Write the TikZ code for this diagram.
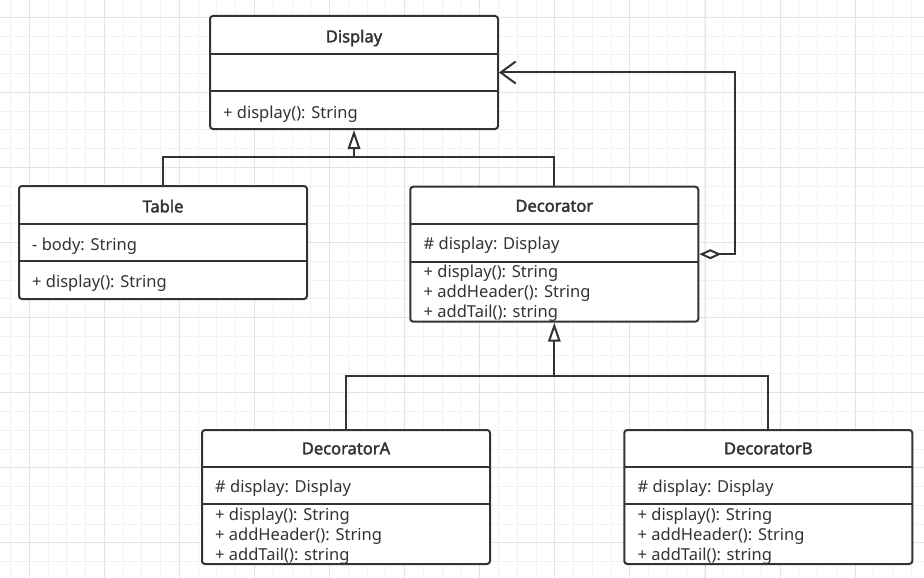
\documentclass[tikz,border=0pt]{standalone}
\usepackage{fontspec}
\setmainfont{Noto Sans}[BoldFont={Noto Sans}, BoldFeatures={FakeBold=2.2}]
\usepackage{tikz}
\usepackage{xcolor}
\usetikzlibrary{
    arrows.meta,
    calc,
    positioning
}
\definecolor{ink}{HTML}{333333}
\definecolor{gridminor}{HTML}{F2F2F2}
\definecolor{gridmajor}{HTML}{E4E4E4}

\begin{document}
\begin{tikzpicture}[x=1pt, y=-1pt,
    classbox/.style={draw=ink, fill=white, line width=2pt, rounded corners=3pt, inner sep=0pt, minimum width=288pt},
    divider/.style={draw=ink, line width=2pt},
    classname/.style={anchor=base, inner sep=0pt, text=ink, font=\fontsize{16.5}{20}\selectfont\bfseries},
    member/.style={anchor=base west, inner sep=0pt, text=ink, font=\fontsize{16.5}{20}\selectfont},
    link/.style={draw=ink, line width=2pt},
    inherit/.style={link, -{Triangle[open, length=19pt, width=12.5pt, fill=white]}},
    aggregate/.style={link, {Diamond[open, length=22pt, width=10pt, fill=white]}-{Straight Barb[length=15pt, width=22pt]}}]
                                % background grid
                                \fill[white] (0,0) rectangle (924,578);
                                \useasboundingbox (0,0) rectangle (924,578);
                                \foreach \i in {0,...,49} \draw[gridminor, line width=1pt] ({10.5+\i*18.77},0) -- ({10.5+\i*18.77},578);
                                \foreach \i in {0,...,31} \draw[gridminor, line width=1pt] (0,{-1.45+\i*18.77}) -- (924,{-1.45+\i*18.77});
                                \foreach \i in {0,...,12} \draw[gridmajor, line width=1pt] ({29.3+\i*75.08},0) -- ({29.3+\i*75.08},578);
                                \foreach \i in {0,...,7} \draw[gridmajor, line width=1pt] (0,{17.3+\i*75.08}) -- (924,{17.3+\i*75.08});
                                % Display
                                \node[classbox, minimum height=113pt] (display) at (354,72.5) {};
                                \draw[divider] (210,54) -- (498,54) (210,91) -- (498,91);
                                \node[classname] (display-name) at (354,42.3) {Display};
                                \node[member] (display-op) at (223,118.3) {+ display(): String};
                                % Table
                                \node[classbox, minimum height=113pt] (table) at (163,242.5) {};
                                \draw[divider] (19,224) -- (307,224) (19,261) -- (307,261);
                                \node[classname] (table-name) at (163,212.3) {Table};
                                \node[member] (table-attr) at (32,250) {- body: String};
                                \node[member] (table-op) at (32,287.5) {+ display(): String};
                                % Decorator
                                \node[classbox, minimum height=135pt] (decorator) at (554.3,254.2) {};
                                \draw[divider] (410.3,224.3) -- (698.3,224.3) (410.3,261.7) -- (698.3,261.7);
                                \node[classname] (decorator-name) at (554.3,211.7) {Decorator};
                                \node[member] (decorator-attr) at (423.5,249) {\# display: Display};
                                \node[member] (decorator-op1) at (423.5,277.7) {+ display(): String};
                                \node[member] (decorator-op2) at (423.5,297.7) {+ addHeader(): String};
                                \node[member] (decorator-op3) at (423.5,317.7) {+ addTail(): string};
                                % DecoratorA
                                \node[classbox, minimum height=134pt] (decoratorA) at (346,497) {};
                                \draw[divider] (202,467) -- (490,467) (202,504) -- (490,504);
                                \node[classname] (decoratorA-name) at (346,454.3) {DecoratorA};
                                \node[member] (decoratorA-attr) at (215,492.3) {\# display: Display};
                                \node[member] (decoratorA-op1) at (215,520.5) {+ display(): String};
                                \node[member] (decoratorA-op2) at (215,540.5) {+ addHeader(): String};
                                \node[member] (decoratorA-op3) at (215,560.5) {+ addTail(): string};
                                % DecoratorB
                                \node[classbox, minimum height=134pt] (decoratorB) at (768.3,497) {};
                                \draw[divider] (624.3,467) -- (912.3,467) (624.3,504) -- (912.3,504);
                                \node[classname] (decoratorB-name) at (768.3,454.3) {DecoratorB};
                                \node[member] (decoratorB-attr) at (637.5,492.3) {\# display: Display};
                                \node[member] (decoratorB-op1) at (637.5,520.5) {+ display(): String};
                                \node[member] (decoratorB-op2) at (637.5,540.5) {+ addHeader(): String};
                                \node[member] (decoratorB-op3) at (637.5,560.5) {+ addTail(): string};
                                % connectors
                                \coordinate (joinA) at (354,157.3);
                                \coordinate (joinB) at (554.3,376);
                                \draw[link] (table.north) |- (joinA);
                                \draw[link] (decorator.north) |- (joinA);
                                \draw[inherit] (joinA) -- (display.south);
                                \draw[link] (decoratorA.north) |- (joinB);
                                \draw[link] (decoratorB.north) |- (joinB);
                                \draw[inherit] (joinB) -- (decorator.south);
                                \draw[aggregate] (decorator.east) -- ++(36,0) |- (display.east);
                            \end{tikzpicture}
\end{document}
